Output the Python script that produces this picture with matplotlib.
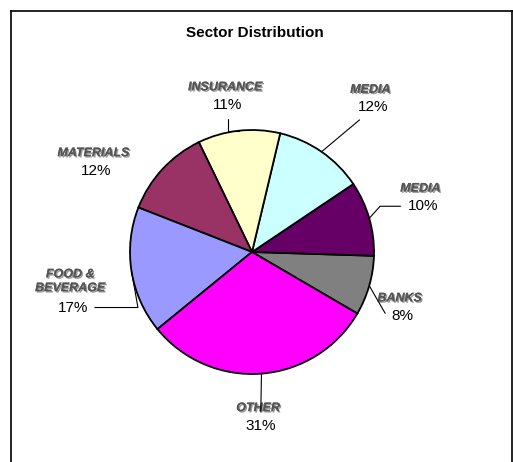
import numpy as np
import matplotlib.pyplot as plt
import matplotlib.patheffects as pe
from matplotlib.lines import Line2D

# Sector shares (percent), counter-clockwise from the BANKS slice
sectors = ["BANKS", "MEDIA", "MEDIA", "INSURANCE", "MATERIALS", "FOOD &\nBEVERAGE", "OTHER"]
shares = [8, 10, 12, 11, 12, 17, 31]
colors = ["#808080", "#660066", "#CCFFFF", "#FFFFCC", "#993366", "#9999FF", "#FF00FF"]

# label name positions (axes data units, pie radius = 1) and leader styles
name_pos = [(1.21, -0.38), (1.38, 0.52), (0.97, 1.33), (-0.22, 1.35),
            (-1.30, 0.81), (-1.49, -0.24), (0.05, -1.28)]
leader = ["angle,angleA=0,angleB=-60,rad=0",
          "angle,angleA=0,angleB=48,rad=0",
          "angle,angleA=90,angleB=40,rad=0",
          "angle,angleA=90,angleB=0,rad=0",
          None,
          "angle,angleA=0,angleB=100,rad=0",
          "arc3,rad=0"]

W, H = 513, 462
fig = plt.figure(figsize=(W / 100, H / 100), dpi=100)

# chart frame (left, top, right edges)
fig.add_artist(Line2D([10.5 / W, 10.5 / W], [0, 1 - 10.5 / H], color="black", lw=1.2))
fig.add_artist(Line2D([10.5 / W, 1], [1 - 10.5 / H, 1 - 10.5 / H], color="black", lw=1.2))
fig.add_artist(Line2D([1 - 1 / W, 1 - 1 / W], [0, 1 - 10.5 / H], color="black", lw=1.2))

fig.text(255 / W, 1 - 33 / H, "Sector Distribution", ha="center", va="center",
         fontsize=11, fontweight="bold", family="Liberation Sans")

cx, cy, r = 252, 462 - 252, 122
ax = fig.add_axes([(cx - r) / W, (cy - r) / H, 2 * r / W, 2 * r / H])
wedges, _ = ax.pie(shares, colors=colors, startangle=-30.3, counterclock=True,
                   wedgeprops=dict(edgecolor="black", linewidth=1.3))
ax.set_xlim(-1, 1)
ax.set_ylim(-1, 1)
ax.set_aspect("equal")
ax.axis("off")

shadow = [pe.withSimplePatchShadow(offset=(1, -1), shadow_rgbFace="#999999", alpha=1.0), pe.Normal()]
for w, name, val, pos, ld in zip(wedges, sectors, shares, name_pos, leader):
    ang = np.deg2rad((w.theta1 + w.theta2) / 2)
    edge = (np.cos(ang), np.sin(ang))
    nlines = name.count("\n") + 1
    pct_pos = (pos[0] + 0.02, pos[1] - 0.145 - 0.07 * (nlines - 1))
    t = ax.text(pos[0], pos[1], name, ha="center", va="center",
                fontsize=9, fontweight="bold", fontstyle="italic", color="#555555",
                family="Liberation Sans", linespacing=1.2)
    t.set_path_effects(shadow)
    arrow = None
    if ld:
        arrow = dict(arrowstyle="-", color="black", lw=0.8, shrinkA=3, shrinkB=0,
                     connectionstyle=ld)
    ax.annotate(f"{val}%", xy=edge, xytext=pct_pos, ha="center", va="center",
                fontsize=11, color="black", family="Liberation Sans",
                arrowprops=arrow, annotation_clip=False)

fig.savefig("out.png", dpi=100)
